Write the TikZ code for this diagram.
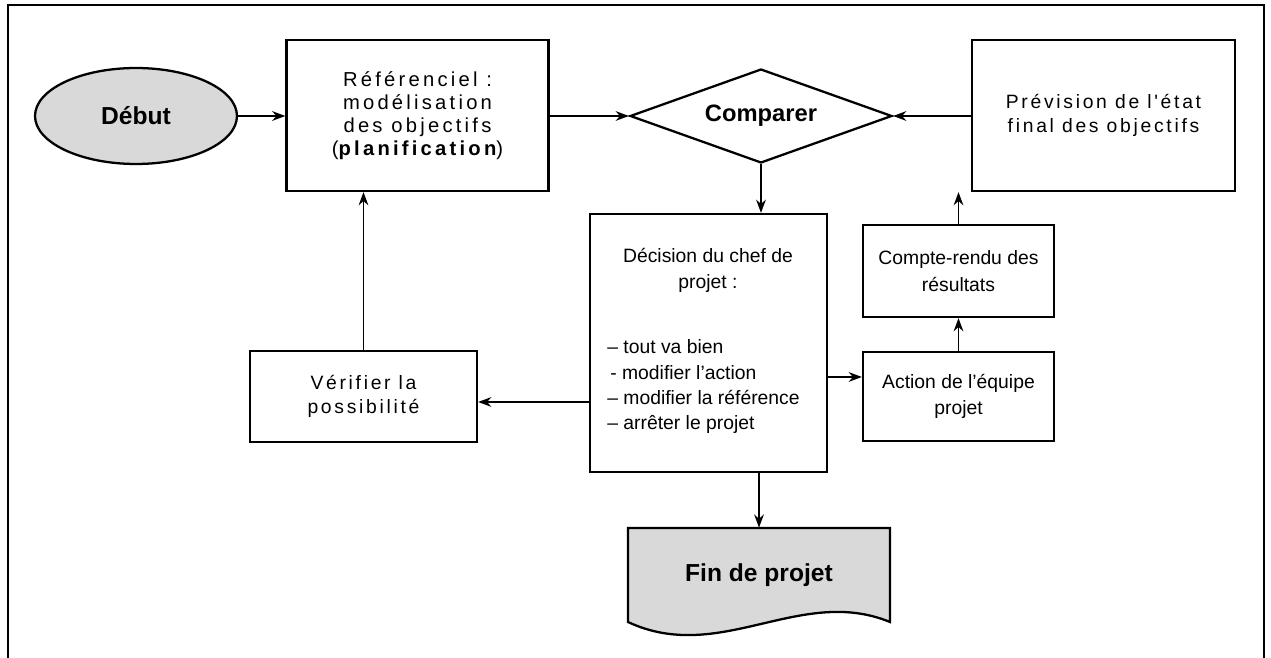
\documentclass[tikz,border=0pt]{standalone}
\usepackage{fontspec}
\setmainfont{Liberation Sans}
\newfontfamily\spacedfont[LetterSpace=14]{Liberation Sans}
\newfontfamily\widefont[LetterSpace=16]{Liberation Sans}
\usetikzlibrary{shapes.geometric,arrows.meta}
\begin{document}
\begin{tikzpicture}[x=0.02cm,y=-0.02cm,
  box/.style={draw,line width=1.3pt,rectangle,inner sep=0pt,align=center,font=\fontsize{11}{15}\selectfont},
  sbox/.style={box,font=\spacedfont\fontsize{11}{14}\selectfont},
  txt/.style={inner sep=0pt,font=\fontsize{11}{14}\selectfont},
  arr/.style={-{Stealth[length=7.5pt,width=5.5pt]},line width=1pt},
  frameline/.style={line width=0.6pt},
  stip/.style={fill=black!15}]
\useasboundingbox (0,0) rectangle (1271,658);
% outer frame
\draw[frameline] (8,658) -- (8,5) -- (1264,5) -- (1264,658);
% nodes
\node[ellipse,draw,line width=1.3pt,stip,minimum width=4.04cm,minimum height=1.92cm,inner sep=0pt,font=\bfseries\fontsize{14}{16}\selectfont] (debut) at (136,116) {Début};
\node[box,font=\widefont\fontsize{11.5}{13.2}\selectfont,minimum width=5.24cm,minimum height=3.02cm] (ref) at (417.5,115.5) {Référenciel :\\modélisation\\des objectifs\\({\bfseries planification})};
\node[diamond,draw,line width=1.3pt,shape aspect=2.8,minimum width=5.24cm,minimum height=1.88cm,inner sep=0pt,font=\bfseries\fontsize{13.5}{16}\selectfont] (cmp) at (761,116) {Comparer};
\node[sbox,minimum width=5.26cm,minimum height=3.02cm] (prev) at (1103.5,115.5) {Prévision de l'état\\final des objectifs};
\node[box,minimum width=4.74cm,minimum height=5.16cm] (dec) at (708.5,343) {};
\node[txt,anchor=base] (dt1) at (708,263) {Décision du chef de};
\node[txt,anchor=base] (dt2) at (708,289) {projet :};
\node[txt,anchor=base west] (dl1) at (607,354) {– tout va bien};
\node[txt,anchor=base west] (dl2) at (610,379) {- modifier l'action};
\node[txt,anchor=base west] (dl3) at (607,404) {– modifier la référence};
\node[txt,anchor=base west] (dl4) at (607,429) {– arrêter le projet};
\node[box,minimum width=3.82cm,minimum height=1.84cm] (cr) at (958.5,271) {Compte-rendu des\\résultats};
\node[box,minimum width=3.82cm,minimum height=1.78cm] (act) at (958.5,396.5) {Action de l'équipe\\projet};
\node[sbox,minimum width=4.54cm,minimum height=1.82cm] (ver) at (363.5,396.5) {Vérifier la\\possibilité};
% document shape
\path[draw,line width=1.3pt,stip] (628,528) -- (890,528) -- (890,622) .. controls (800,585) and (720,665) .. (628,622) -- cycle;
\node[inner sep=0pt,minimum width=5.24cm,minimum height=1.88cm,font=\bfseries\fontsize{14}{16}\selectfont] (fin) at (759,575) {Fin de projet};
% connectors
\draw[arr] (debut.east) -- (debut.east -| ref.west);
\draw[arr] (ref.east |- cmp.west) -- (cmp.west);
\draw[arr] (prev.west |- cmp.east) -- (cmp.east);
\draw[arr] (cmp.south) -- (cmp.south |- dec.north);
\draw[arr] ([yshift=-0.68cm]dec.east) -- ([yshift=-0.68cm]dec.east -| act.west);
\draw[arr] ([yshift=-1.18cm]dec.west) -- ([yshift=-1.18cm]dec.west -| ver.east);
\draw[arr,line width=0.8pt] (ver.north) -- (ver.north |- ref.south);
\draw[arr] (act.north) -- (cr.south);
\draw[arr] (cr.north) -- (cr.north |- prev.south);
\draw[arr] (fin.north |- dec.south) -- (fin.north);
\end{tikzpicture}
\end{document}
